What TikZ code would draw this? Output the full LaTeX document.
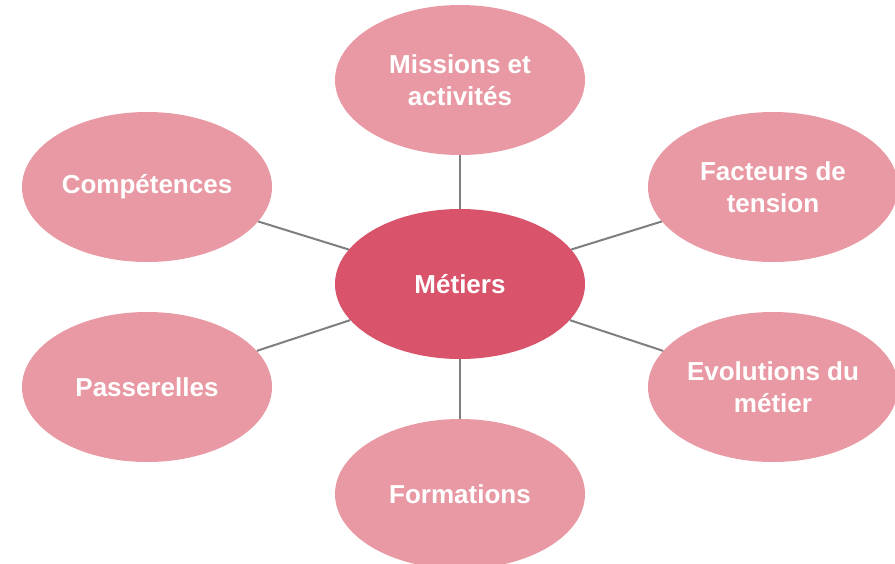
\documentclass[tikz,border=0pt]{standalone}
\usepackage{fontspec}
\setmainfont{Liberation Sans}
\usetikzlibrary{shapes.geometric}
\definecolor{outerpink}{HTML}{E899A4}
\definecolor{innerpink}{HTML}{D9536B}
\definecolor{linkgray}{HTML}{7F7F7F}
\tikzset{
  bubble/.style={ellipse, fill=outerpink, draw=none, minimum width=250pt, minimum height=150pt,
    inner sep=0pt, text=white, align=center,
    font=\fontsize{26pt}{32pt}\selectfont\bfseries},
  hub/.style={bubble, fill=innerpink},
  link/.style={draw=linkgray, line width=2pt}
}
\begin{document}
\begin{tikzpicture}[x=1pt,y=-1pt]
\useasboundingbox (0,0) rectangle (895,563);
\node[hub] (m) at (460,284) {Métiers};
\node[bubble] (mis) at (460,80) {Missions et\\activités};
\node[bubble] (comp) at (147,187) {Compétences};
\node[bubble] (fac) at (773,187) {Facteurs de\\tension};
\node[bubble] (pas) at (147,387) {Passerelles};
\node[bubble] (evo) at (773,387) {Evolutions du\\métier};
\node[bubble] (form) at (460,494) {Formations};
\foreach \n in {mis,comp,fac,pas,evo,form} \draw[link] (m) -- (\n);
\end{tikzpicture}
\end{document}
